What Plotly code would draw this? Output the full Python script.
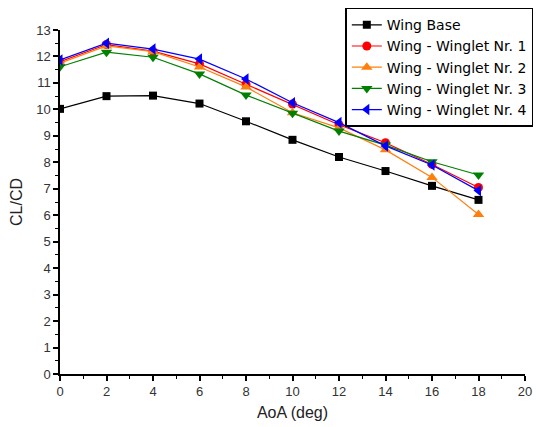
import plotly.graph_objects as go

aoa = [0, 2, 4, 6, 8, 10, 12, 14, 16, 18]
wing_base = [10.02, 10.5, 10.52, 10.22, 9.55, 8.85, 8.2, 7.67, 7.11, 6.58]
winglet1 = [11.8, 12.45, 12.2, 11.72, 10.95, 10.2, 9.42, 8.74, 7.92, 7.05]
winglet2 = [11.75, 12.4, 12.18, 11.6, 10.85, 9.87, 9.3, 8.47, 7.43, 6.03]
winglet3 = [11.61, 12.16, 11.97, 11.34, 10.54, 9.85, 9.18, 8.65, 8.02, 7.52]
winglet4 = [11.87, 12.5, 12.28, 11.9, 11.15, 10.25, 9.5, 8.62, 7.9, 6.93]

series = [
    ("Wing Base", wing_base, "black", "square", 8),
    ("Wing - Winglet Nr. 1", winglet1, "red", "circle", 9),
    ("Wing - Winglet Nr. 2", winglet2, "#ff7f0e", "triangle-up", 10),
    ("Wing - Winglet Nr. 3", winglet3, "green", "triangle-down", 10),
    ("Wing - Winglet Nr. 4", winglet4, "blue", "triangle-left", 10),
]

fig = go.Figure()
for name, vals, col, sym, sz in series:
    fig.add_trace(go.Scatter(
        x=aoa, y=vals, name=name, mode="lines+markers",
        line=dict(color=col, width=1.2),
        marker=dict(symbol=sym, size=sz, color=col, line=dict(width=0)),
    ))

FONT = "Arial, Liberation Sans"
axis_common = dict(
    showline=True, linecolor="black", linewidth=1.5,
    ticks="outside", ticklen=5, tickwidth=1.5, tickcolor="black",
    showgrid=False, zeroline=False, mirror=False,
    tickfont=dict(family=FONT, size=13, color="#333333"),
    minor=dict(ticks="outside", ticklen=3, tickwidth=1.2, tickcolor="black"),
)

fig.update_xaxes(range=[0, 20], tick0=0, dtick=2, minor_dtick=1,
                 title=dict(text="AoA (deg)", font=dict(family=FONT, size=16, color="#222"), standoff=8),
                 **axis_common)
fig.update_yaxes(range=[0, 13], tick0=0, dtick=1, minor_dtick=0.5,
                 title=dict(text="CL/CD", font=dict(family=FONT, size=16, color="#222"), standoff=10),
                 **axis_common)

fig.update_layout(
    width=536, height=427,
    margin=dict(l=60, r=11, t=30, b=53, autoexpand=False),
    plot_bgcolor="white", paper_bgcolor="white",
    font=dict(family=FONT, color="black"),
    legend=dict(
        xref="container", yref="container",
        x=0.995, y=0.982, xanchor="right", yanchor="top",
        bgcolor="white", bordercolor="black", borderwidth=1.5,
        font=dict(family="DejaVu Sans", size=14, color="black"),
        tracegroupgap=0, itemwidth=30,
    ),
)

fig.write_html("out.html")
